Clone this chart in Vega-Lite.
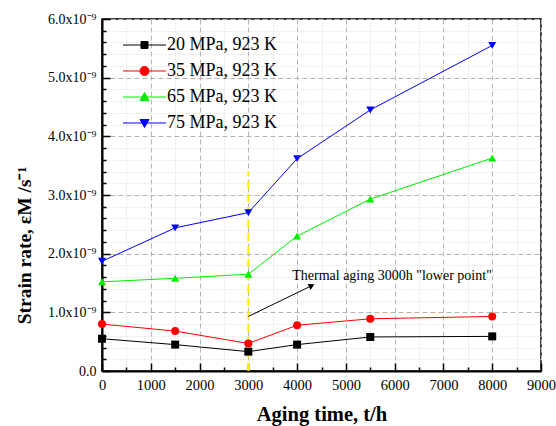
{
  "$schema": "https://vega.github.io/schema/vega-lite/v6.json",
  "width": 439,
  "height": 352,
  "autosize": "none",
  "padding": {"left": 102, "top": 19, "right": 15, "bottom": 55},
  "background": "white",
  "config": {
    "view": {"stroke": "black", "strokeWidth": 1.5},
    "font": "Liberation Serif",
    "axis": {"labelFont": "Liberation Serif", "titleFont": "Liberation Serif", "labelColor": "black", "titleColor": "black"},
    "legend": {"labelFont": "Liberation Serif", "labelColor": "black", "labelFontSize": 18, "rowPadding": 8, "labelOffset": 30, "padding": 0, "symbolSize": 100, "symbolStrokeWidth": 1, "symbolOpacity": 1}
  },
  "datasets": {
    "main": [
      {"series": "20 MPa, 923 K", "t": 0, "rate": 0.55e-9},
      {"series": "20 MPa, 923 K", "t": 1500, "rate": 0.45e-9},
      {"series": "20 MPa, 923 K", "t": 3000, "rate": 0.33e-9},
      {"series": "20 MPa, 923 K", "t": 4000, "rate": 0.45e-9},
      {"series": "20 MPa, 923 K", "t": 5500, "rate": 0.58e-9},
      {"series": "20 MPa, 923 K", "t": 8000, "rate": 0.59e-9},
      {"series": "35 MPa, 923 K", "t": 0, "rate": 0.80e-9},
      {"series": "35 MPa, 923 K", "t": 1500, "rate": 0.68e-9},
      {"series": "35 MPa, 923 K", "t": 3000, "rate": 0.47e-9},
      {"series": "35 MPa, 923 K", "t": 4000, "rate": 0.78e-9},
      {"series": "35 MPa, 923 K", "t": 5500, "rate": 0.89e-9},
      {"series": "35 MPa, 923 K", "t": 8000, "rate": 0.93e-9},
      {"series": "65 MPa, 923 K", "t": 0, "rate": 1.52e-9},
      {"series": "65 MPa, 923 K", "t": 1500, "rate": 1.58e-9},
      {"series": "65 MPa, 923 K", "t": 3000, "rate": 1.65e-9},
      {"series": "65 MPa, 923 K", "t": 4000, "rate": 2.30e-9},
      {"series": "65 MPa, 923 K", "t": 5500, "rate": 2.93e-9},
      {"series": "65 MPa, 923 K", "t": 8000, "rate": 3.63e-9},
      {"series": "75 MPa, 923 K", "t": 0, "rate": 1.87e-9},
      {"series": "75 MPa, 923 K", "t": 1500, "rate": 2.44e-9},
      {"series": "75 MPa, 923 K", "t": 3000, "rate": 2.70e-9},
      {"series": "75 MPa, 923 K", "t": 4000, "rate": 3.62e-9},
      {"series": "75 MPa, 923 K", "t": 5500, "rate": 4.45e-9},
      {"series": "75 MPa, 923 K", "t": 8000, "rate": 5.55e-9}
    ],
    "yellow": [{"t": 3000, "lo": 0, "hi": 3.4e-9}],
    "arrow": [{"t0": 3000, "r0": 0.93e-9, "t1": 4300, "r1": 1.455e-9}],
    "note": [{"t": 3900, "rate": 1.55e-9, "label": "Thermal aging 3000h \"lower point\""}]
  },
  "layer": [
    {
      "data": {"name": "main"},
      "mark": {"type": "point", "opacity": 0},
      "encoding": {
        "x": {"field": "t", "type": "quantitative", "scale": {"domain": [0, 9000], "nice": false},
          "axis": {"orient": "bottom", "values": [500, 1500, 2500, 3500, 4500, 5500, 6500, 7500, 8500], "labels": false, "domain": false, "tickSize": -4, "tickColor": "black", "tickWidth": 1.5, "grid": true, "gridColor": "#d6d6d6", "gridDash": [1, 2], "gridWidth": 1, "title": null}},
        "y": {"field": "rate", "type": "quantitative", "scale": {"domain": [0, 6e-9], "nice": false},
          "axis": {"orient": "left", "values": [0.2e-9, 0.4e-9, 0.6e-9, 0.8e-9, 1.2e-9, 1.4e-9, 1.6e-9, 1.8e-9, 2.2e-9, 2.4e-9, 2.6e-9, 2.8e-9, 3.2e-9, 3.4e-9, 3.6e-9, 3.8e-9, 4.2e-9, 4.4e-9, 4.6e-9, 4.8e-9, 5.2e-9, 5.4e-9, 5.6e-9, 5.8e-9], "labels": false, "domain": false, "tickSize": -4, "tickColor": "black", "tickWidth": 1.5, "grid": true, "gridColor": "#d6d6d6", "gridDash": [1, 2], "gridWidth": 1, "title": null}}
      }
    },
    {
      "data": {"name": "yellow"},
      "mark": {"type": "rule", "color": "#ffee00", "strokeWidth": 2, "strokeDash": [8, 5]},
      "encoding": {
        "x": {"field": "t", "type": "quantitative", "axis": null},
        "y": {"field": "lo", "type": "quantitative", "axis": null},
        "y2": {"field": "hi"}
      }
    },
    {
      "data": {"name": "main"},
      "mark": {"type": "line", "strokeWidth": 1},
      "encoding": {
        "x": {"field": "t", "type": "quantitative", "scale": {"domain": [0, 9000], "nice": false},
          "axis": {"orient": "bottom", "values": [0, 1000, 2000, 3000, 4000, 5000, 6000, 7000, 8000, 9000], "format": "d", "labelFontSize": 14.5, "labelPadding": 15, "tickSize": -8, "tickColor": "black", "tickWidth": 1.5, "domainColor": "black", "domainWidth": 2, "grid": true, "gridColor": "#b5b5b5", "gridDash": [5, 3], "gridWidth": 1, "labelFlush": false,
            "title": "Aging time, t/h", "titleFontSize": 20.5, "titleFontWeight": "bold", "titleBaseline": "alphabetic", "titleY": 49}},
        "y": {"field": "rate", "type": "quantitative", "scale": {"domain": [0, 6e-9], "nice": false},
          "axis": {"orient": "left", "values": [0, 1e-9, 2e-9, 3e-9, 4e-9, 5e-9, 6e-9], "labelExpr": "datum.value == 0 ? '0.0' : format(datum.value * 1e9, '.1f') + 'x10⁻⁹'", "labelFontSize": 14, "labelPadding": 14, "tickSize": -8, "tickColor": "black", "tickWidth": 1.5, "domainColor": "black", "domainWidth": 2, "grid": true, "gridColor": "#b5b5b5", "gridDash": [5, 3], "gridWidth": 1, "labelFlush": false,
            "title": "Strain rate, εM /s⁻¹", "titleFontSize": 19.5, "titleFontWeight": "bold", "titleAngle": -90, "titleBaseline": "middle", "titleX": -78, "titleY": 226}},
        "color": {"field": "series", "type": "nominal", "legend": null,
          "scale": {"domain": ["20 MPa, 923 K", "35 MPa, 923 K", "65 MPa, 923 K", "75 MPa, 923 K"], "range": ["#000000", "#ff0000", "#00ee00", "#0000ff"]}}
      }
    },
    {
      "data": {"name": "main"},
      "mark": {"type": "point", "filled": true, "size": 64, "opacity": 1},
      "encoding": {
        "x": {"field": "t", "type": "quantitative", "axis": null},
        "y": {"field": "rate", "type": "quantitative", "axis": null},
        "color": {"field": "series", "type": "nominal", "legend": null},
        "shape": {"field": "series", "type": "nominal", "legend": null,
          "scale": {"domain": ["20 MPa, 923 K", "35 MPa, 923 K", "65 MPa, 923 K", "75 MPa, 923 K"], "range": ["square", "circle", "triangle-up", "triangle-down"]}}
      }
    },
    {
      "data": {"name": "arrow"},
      "mark": {"type": "rule", "color": "black", "strokeWidth": 1},
      "encoding": {
        "x": {"field": "t0", "type": "quantitative", "axis": null},
        "y": {"field": "r0", "type": "quantitative", "axis": null},
        "x2": {"field": "t1"},
        "y2": {"field": "r1"}
      }
    },
    {
      "data": {"name": "arrow"},
      "mark": {"type": "point", "shape": "triangle-right", "filled": true, "color": "black", "size": 45, "angle": -26, "opacity": 1},
      "encoding": {
        "x": {"field": "t1", "type": "quantitative", "axis": null},
        "y": {"field": "r1", "type": "quantitative", "axis": null}
      }
    },
    {
      "data": {"name": "note"},
      "mark": {"type": "text", "align": "left", "baseline": "alphabetic", "fontSize": 14, "font": "Liberation Serif", "color": "black"},
      "encoding": {
        "x": {"field": "t", "type": "quantitative", "axis": null},
        "y": {"field": "rate", "type": "quantitative", "axis": null},
        "text": {"field": "label"}
      }
    },
    {
      "data": {"name": "main"},
      "mark": {"type": "point", "filled": true, "opacity": 0},
      "encoding": {
        "x": {"field": "t", "type": "quantitative", "axis": null},
        "y": {"field": "rate", "type": "quantitative", "axis": null},
        "fill": {"field": "series", "type": "nominal", "title": null,
          "scale": {"domain": ["20 MPa, 923 K", "35 MPa, 923 K", "65 MPa, 923 K", "75 MPa, 923 K"], "range": ["#000000", "#ff0000", "#00ee00", "#0000ff"]},
          "legend": {"orient": "none", "legendX": 17, "legendY": 17}},
        "stroke": {"field": "series", "type": "nominal", "title": null,
          "scale": {"domain": ["20 MPa, 923 K", "35 MPa, 923 K", "65 MPa, 923 K", "75 MPa, 923 K"], "range": ["#000000", "#ff0000", "#00ee00", "#0000ff"]},
          "legend": {"orient": "none", "legendX": 17, "legendY": 17}},
        "shape": {"field": "series", "type": "nominal", "title": null,
          "scale": {"domain": ["20 MPa, 923 K", "35 MPa, 923 K", "65 MPa, 923 K", "75 MPa, 923 K"],
            "range": ["M-1,0H7.6M2.6,-0.7H4V0.7H2.6Z", "M-1,0H7.6M4.2,0A0.9,0.9,0,1,1,2.4,0A0.9,0.9,0,1,1,4.2,0Z", "M-1,0H7.6M3.3,-0.9L4.2,0.7L2.4,0.7Z", "M-1,0H7.6M3.3,0.9L4.2,-0.7L2.4,-0.7Z"]},
          "legend": {"orient": "none", "legendX": 17, "legendY": 17}}
      }
    }
  ],
  "resolve": {
    "scale": {"shape": "independent", "fill": "independent", "stroke": "independent"},
    "axis": {"x": "independent", "y": "independent"}
  }
}
